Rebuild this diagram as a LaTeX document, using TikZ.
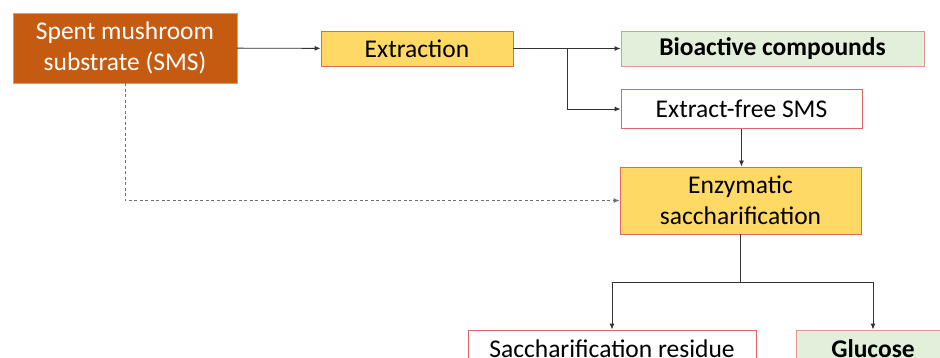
\documentclass[tikz,border=0pt]{standalone}
\usepackage{fontspec}
\setmainfont{Carlito}
\usepackage{xcolor}
\usetikzlibrary{arrows.meta, positioning}

\definecolor{smsorange}{HTML}{C55A11}
\definecolor{steelyellow}{HTML}{FFD966}
\definecolor{paleGreen}{HTML}{E2EFDA}
\definecolor{boxred}{HTML}{E06666}
\definecolor{lineGrey}{HTML}{333333}

\begin{document}
\begin{tikzpicture}[x=1pt, y=-1pt,
    every node/.style={font=\fontsize{25.5}{30.5}\selectfont, align=center, inner sep=0pt},
    procbox/.style={rectangle, draw=boxred, line width=0.9pt, fill=steelyellow},
    prodbox/.style={rectangle, draw=boxred!70, line width=0.9pt, fill=paleGreen},
    restbox/.style={rectangle, draw=boxred, line width=0.9pt, fill=white},
    arr/.style={draw=lineGrey, line width=0.9pt, -{Latex[length=6pt, width=5pt]}},
    dasharr/.style={draw=lineGrey!70, line width=0.9pt, dash pattern=on 3pt off 2.5pt, -{Latex[length=6pt, width=5pt]}}]
        \useasboundingbox (0,0) rectangle (940,358);

        \node[rectangle, draw=smsorange!60, fill=smsorange, text=white, minimum width=224pt, minimum height=70pt] (sms) at (125,48) {Spent mushroom\\substrate (SMS)};
        \node[procbox, minimum width=192pt, minimum height=35pt] (extr) at (417,48.5) {Extraction};
        \node[prodbox, minimum width=303pt, minimum height=35pt] (bio) at (772.5,48.5) {\bfseries Bioactive compounds};
        \node[restbox, minimum width=241pt, minimum height=39pt] (free) at (741.5,109) {Extract-free SMS};
        \node[procbox, minimum width=241pt, minimum height=67pt] (enz) at (740.5,200.5) {Enzymatic\\saccharification};
        \node[restbox, minimum width=288pt, minimum height=38pt] (res) at (612,349) {Saccharification residue};
        \node[prodbox, minimum width=154pt, minimum height=38pt] (glu) at (873,349) {\bfseries Glucose};

        \coordinate (split1) at (567,48.5);
        \coordinate (split2) at (740.5,282);

        \draw[arr] (sms) -- (extr);
        \draw[arr] (extr) -- (bio);
        \draw[arr] (split1) |- (free);
        \draw[arr] (free.south) -- (free.south |- enz.north);
        \draw[dasharr] (sms.south) |- (enz.west);
        \draw[draw=lineGrey, line width=0.9pt] (enz) -- (split2);
        \draw[arr] (split2) -| (res);
        \draw[arr] (split2) -| (glu);
    \end{tikzpicture}
\end{document}
